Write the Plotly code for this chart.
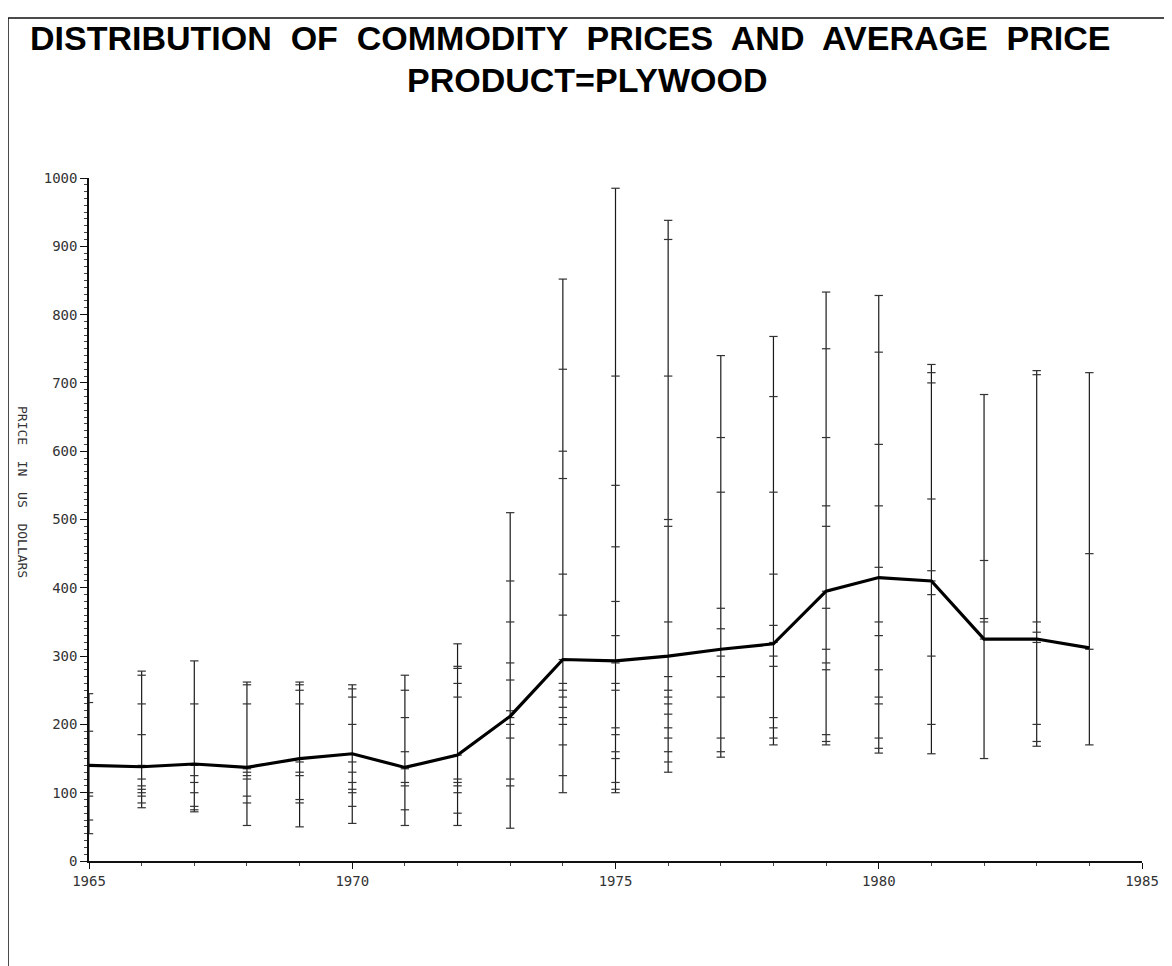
import plotly.graph_objects as go

years = list(range(1965, 1985))

obs = {
    1965: [245, 232, 190, 140, 100, 95, 60, 40],
    1966: [278, 272, 230, 185, 140, 120, 110, 105, 100, 95, 85, 78],
    1967: [293, 230, 140, 125, 115, 100, 80, 75, 72],
    1968: [262, 258, 230, 135, 130, 125, 120, 95, 85, 52],
    1969: [262, 258, 250, 230, 150, 145, 130, 125, 90, 85, 50],
    1970: [258, 252, 240, 200, 145, 130, 115, 105, 100, 80, 55],
    1971: [272, 250, 210, 160, 135, 115, 110, 75, 52],
    1972: [318, 285, 282, 260, 240, 155, 120, 115, 110, 100, 70, 52],
    1973: [510, 410, 350, 290, 265, 220, 210, 200, 180, 120, 110, 48],
    1974: [852, 720, 600, 560, 420, 360, 295, 260, 250, 240, 225, 210, 200, 170, 125, 100],
    1975: [985, 710, 550, 460, 380, 330, 290, 260, 250, 195, 185, 160, 150, 115, 105, 100],
    1976: [938, 910, 710, 500, 490, 350, 300, 270, 250, 240, 230, 215, 195, 180, 160, 145, 130],
    1977: [740, 620, 540, 370, 340, 300, 270, 240, 180, 160, 152],
    1978: [768, 680, 540, 420, 345, 320, 300, 285, 210, 195, 180, 170],
    1979: [833, 750, 620, 520, 490, 395, 370, 310, 290, 280, 185, 175, 170],
    1980: [828, 745, 610, 520, 430, 415, 350, 330, 280, 240, 230, 180, 165, 158],
    1981: [727, 715, 700, 530, 425, 410, 390, 300, 200, 157],
    1982: [683, 440, 355, 350, 325, 150],
    1983: [718, 712, 350, 335, 320, 200, 175, 168],
    1984: [715, 450, 310, 170],
}

avg_price = [140, 138, 142, 137, 150, 157, 137, 155, 212, 295,
             293, 300, 310, 318, 395, 415, 410, 325, 325, 312]

x_ticks = [1965, 1970, 1975, 1980, 1985]
y_ticks = [0, 100, 200, 300, 400, 500, 600, 700, 800, 900, 1000]

title_1 = "DISTRIBUTION  OF  COMMODITY  PRICES  AND  AVERAGE  PRICE"
title_2 = "PRODUCT=PLYWOOD"
y_title = "PRICE  IN  US  DOLLARS"

fig = go.Figure()

# range lines (min to max per year)
rx, ry = [], []
for yr in years:
    rx += [yr, yr, None]
    ry += [min(obs[yr]), max(obs[yr]), None]
fig.add_trace(go.Scatter(x=rx, y=ry, mode="lines",
                         line=dict(color="#1a1a1a", width=1.2),
                         hoverinfo="skip", showlegend=False))

# individual observations as small horizontal ticks
px_, py_ = [], []
for yr in years:
    for v in obs[yr]:
        px_.append(yr)
        py_.append(v)
fig.add_trace(go.Scatter(x=px_, y=py_, mode="markers",
                         marker=dict(symbol="line-ew", size=6,
                                     line=dict(color="#333", width=1.2)),
                         showlegend=False))

# average price line
fig.add_trace(go.Scatter(x=years, y=avg_price, mode="lines",
                         line=dict(color="#000", width=3.2),
                         showlegend=False))

tick_font = dict(family="DejaVu Sans Mono", size=14, color="#333")

# plot area: x 1965->89px, 1985->1142px ; y 0->861px, 1000->178px
L, T = 81, 170
PW, PH = 1053, 683

fig.update_layout(
    width=1172, height=966,
    paper_bgcolor="white", plot_bgcolor="white",
    margin=dict(l=L, r=1172 - L - PW, t=T, b=966 - T - PH),
    showlegend=False,
    xaxis=dict(range=[1965, 1985], tickmode="array", tickvals=x_ticks,
               ticktext=[str(v) for v in x_ticks],
               showgrid=False, zeroline=False, showline=True,
               linecolor="#111", linewidth=1.5,
               ticks="outside", ticklen=6, tickcolor="#111",
               minor=dict(ticks="outside", ticklen=3, dtick=1, tickcolor="#444"),
               tickfont=tick_font),
    yaxis=dict(range=[0, 1000], tickmode="array", tickvals=y_ticks,
               ticktext=[str(v) for v in y_ticks],
               showgrid=False, zeroline=False, showline=True,
               linecolor="#111", linewidth=1.5,
               ticks="outside", ticklen=7, tickcolor="#111",
               minor=dict(ticks="outside", ticklen=3, dtick=10, tickcolor="#444"),
               tickfont=tick_font),
    font=dict(family="Liberation Sans", color="#000"),
)


def px_x(p):
    return (p - 89) / PW


def px_y(p):
    return (861 - p) / PH


fig.add_annotation(text="<b>" + title_1 + "</b>", xref="paper", yref="paper",
                   x=px_x(570), y=px_y(38), xanchor="center", yanchor="middle",
                   showarrow=False,
                   font=dict(family="Liberation Sans", size=34, color="#000"))
fig.add_annotation(text="<b>" + title_2 + "</b>", xref="paper", yref="paper",
                   x=px_x(587), y=px_y(80), xanchor="center", yanchor="middle",
                   showarrow=False,
                   font=dict(family="Liberation Sans", size=34, color="#000"))
fig.add_annotation(text=y_title, xref="paper", yref="paper",
                   x=px_x(22), y=px_y(492),
                   xanchor="center", yanchor="middle", textangle=90,
                   showarrow=False,
                   font=dict(family="DejaVu Sans Mono", size=13, color="#333"))

# outer frame
fig.add_shape(type="rect", xref="paper", yref="paper",
              x0=px_x(8), x1=px_x(1165),
              y0=px_y(990), y1=px_y(18),
              line=dict(color="#111", width=1.5))

fig.write_html("out.html")
